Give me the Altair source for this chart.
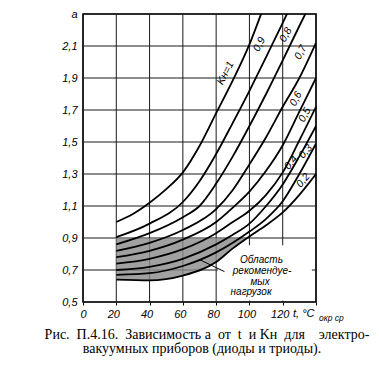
import altair as alt
import pandas as pd

# ---- curve data: alpha vs t for each K_н ----
t_k10 = [20, 30, 40, 50, 60, 70, 80, 90, 100, 107]
a_k10 = [1.00, 1.05, 1.12, 1.205, 1.31, 1.475, 1.68, 1.885, 2.11, 2.30]

t_k09 = [20, 40, 60, 70, 80, 90, 100, 110, 120, 123]
a_k09 = [0.905, 0.99, 1.125, 1.255, 1.425, 1.62, 1.82, 2.03, 2.245, 2.31]

t_k08 = [20, 40, 60, 70, 80, 90, 100, 110, 120, 130, 135]
a_k08 = [0.86, 0.93, 1.03, 1.10, 1.24, 1.41, 1.60, 1.80, 2.01, 2.225, 2.33]

t_common = [20, 40, 60, 80, 90, 100, 110, 120, 130, 140]
a_k07 = [0.82, 0.87, 0.95, 1.08, 1.20, 1.36, 1.53, 1.72, 1.90, 2.12]
a_k06 = [0.78, 0.82, 0.89, 1.00, 1.09, 1.19, 1.32, 1.48, 1.69, 1.90]
a_k05 = [0.74, 0.77, 0.83, 0.93, 1.00, 1.07, 1.17, 1.31, 1.51, 1.72]
a_k04 = [0.70, 0.72, 0.77, 0.86, 0.92, 0.99, 1.10, 1.235, 1.41, 1.60]
a_k03 = [0.67, 0.68, 0.725, 0.81, 0.87, 0.94, 1.02, 1.13, 1.30, 1.49]
a_k02 = [0.64, 0.635, 0.665, 0.75, 0.835, 0.91, 0.98, 1.06, 1.17, 1.30]

# recommended-load region: below alpha = 0.9, above the K=0.2 curve
hatch_t = [20, 40, 60, 80, 90, 98.5]
hatch_lo = [0.64, 0.635, 0.665, 0.75, 0.835, 0.90]
hatch_hi = 0.9

# curve labels
lab_text = ["Kн=1", "0,9", "0,8", "0,7", "0,6", "0,5", "0,4", "0,3", "0,2"]
lab_t = [85.7, 106.0, 121.9, 130.8, 128.0, 133.3, 125.0, 133.8, 132.3]
lab_a = [1.93, 2.11, 2.17, 2.06, 1.77, 1.67, 1.37, 1.44, 1.26]

# annotation "Область рекомендуемых нагрузок"
note_text = ["Область", "рекомендуе-", "мых", "нагрузок"]
note_t = [107.2, 107.6, 106.4, 101.0]
note_a = [0.7625, 0.694, 0.628, 0.5625]
box_t = [81, 137.5]
box_a = [0.51, 0.855]
lead_t = [70, 85]
lead_a = [0.765, 0.69]

x_ticks = [0, 20, 40, 60, 80, 100, 120, 140]
y_ticks = [0.5, 0.7, 0.9, 1.1, 1.3, 1.5, 1.7, 1.9, 2.1, 2.3]

NB = "\u00a0"
caption1 = ("Рис." + NB * 2 + "П.4.16." + NB * 2 + "Зависимость" + NB + "a" + NB * 2 + "от" + NB * 2
            + "t" + NB * 2 + "и" + NB + "Kн" + NB * 2 + "для" + NB * 4 + "электро-")
caption2 = "вакуумных приборов (диоды и триоды)."

# ---- build tables ----
rows = []
for k, ts, As in [("1", t_k10, a_k10), ("0.9", t_k09, a_k09), ("0.8", t_k08, a_k08),
                  ("0.7", t_common, a_k07), ("0.6", t_common, a_k06),
                  ("0.5", t_common, a_k05), ("0.4", t_common, a_k04),
                  ("0.3", t_common, a_k03), ("0.2", t_common, a_k02)]:
    for t, a in zip(ts, As):
        rows.append({"K": k, "t": t, "a": a})
df = pd.DataFrame(rows)
df_hatch = pd.DataFrame({"t": hatch_t, "a": hatch_lo, "top": [hatch_hi] * len(hatch_t)})
df_lab = pd.DataFrame({"txt": lab_text, "t": lab_t, "a": lab_a})
df_note = pd.DataFrame({"txt": note_text, "t": note_t, "a": note_a})
df_box = pd.DataFrame({"t": [box_t[0]], "t1": [box_t[1]], "a": [box_a[0]], "a1": [box_a[1]]})
df_lead = pd.DataFrame({"t": lead_t, "a": lead_a})
df_xg = pd.DataFrame({"t": x_ticks})
df_yg = pd.DataFrame({"a": y_ticks})

xs = alt.Scale(domain=[0, 140], nice=False, zero=False)
ys = alt.Scale(domain=[0.5, 2.3], nice=False, zero=False)

x_axis = alt.Axis(values=x_ticks, labelExpr="datum.value == 140 ? '' : datum.label",
                  grid=False, ticks=True, tickColor="black", tickSize=3, domain=False,
                  labelFont="Liberation Sans", labelFontStyle="italic", labelFontSize=11,
                  labelColor="black", labelPadding=3, labelOffset=-3, title=None)
y_axis = alt.Axis(values=y_ticks,
                  labelExpr="datum.value > 2.25 ? 'a' : replace(format(datum.value, '.1f'), '.', ',')",
                  grid=False, ticks=False, domain=False,
                  labelFont="Liberation Sans", labelFontStyle="italic", labelFontSize=11,
                  labelColor="black", labelPadding=6, title=None)

X = alt.X("t:Q", scale=xs, axis=x_axis)
Y = alt.Y("a:Q", scale=ys, axis=y_axis)

xgrid = alt.Chart(df_xg).mark_rule(color="#1a1a1a", strokeWidth=1).encode(x=X)
ygrid = alt.Chart(df_yg).mark_rule(color="#1a1a1a", strokeWidth=1).encode(y=Y)

box = alt.Chart(df_box).mark_rect(color="white").encode(x=X, x2="t1:Q", y=Y, y2="a1:Q")

hatch = alt.Chart(df_hatch).mark_area(color="#8a8a8a", opacity=0.8, interpolate="monotone").encode(
    x=X, y=Y, y2="top:Q")

lines = alt.Chart(df).mark_line(color="black", strokeWidth=1.8, interpolate="monotone", clip=True).encode(
    x=X, y=Y, detail="K:N")

lead = alt.Chart(df_lead).mark_line(color="black", strokeWidth=1).encode(x=X, y=Y)

lab_style = dict(font="Liberation Sans", fontStyle="italic", fontSize=10.5, color="black")
labs_a = alt.Chart(df_lab).transform_filter(alt.FieldOneOfPredicate(
    field="txt", oneOf=lab_text[:6])).mark_text(angle=298, **lab_style).encode(x=X, y=Y, text="txt:N")
labs_b = alt.Chart(df_lab).transform_filter(alt.FieldOneOfPredicate(
    field="txt", oneOf=lab_text[6:])).mark_text(angle=310, **lab_style).encode(x=X, y=Y, text="txt:N")

notes = alt.Chart(df_note).mark_text(font="Liberation Sans", fontStyle="italic", fontSize=10,
                                      color="black").encode(x=X, y=Y, text="txt:N")

unit_main = alt.Chart(pd.DataFrame({"s": ["t, °C"]})).mark_text(
    font="Liberation Sans", fontStyle="italic", fontSize=11, align="left", color="black").encode(
    x=alt.value(210), y=alt.value(300), text="s:N")
unit_sub = alt.Chart(pd.DataFrame({"s": ["окр ср"]})).mark_text(
    font="Liberation Sans", fontStyle="italic", fontSize=8.5, align="left", color="black").encode(
    x=alt.value(236), y=alt.value(304), text="s:N")

cap1 = alt.Chart(pd.DataFrame({"s": [caption1]})).mark_text(
    font="Liberation Serif", fontSize=14, align="center", color="black").encode(
    x=alt.value(124), y=alt.value(321), text="s:N")
cap2 = alt.Chart(pd.DataFrame({"s": [caption2]})).mark_text(
    font="Liberation Serif", fontSize=14, align="center", color="black").encode(
    x=alt.value(119), y=alt.value(335), text="s:N")

chart = alt.layer(xgrid, ygrid, box, hatch, lines, lead, labs_a, labs_b, notes,
                  unit_main, unit_sub, cap1, cap2).properties(
    width=233, height=288,
    autosize=alt.AutoSizeParams(type="none"),
    padding={"left": 75, "top": 6, "right": 55, "bottom": 61},
    background="white",
).configure_view(stroke="black", strokeWidth=1.6)

chart.save("out.html", embed_options={"renderer": "svg", "actions": False})
